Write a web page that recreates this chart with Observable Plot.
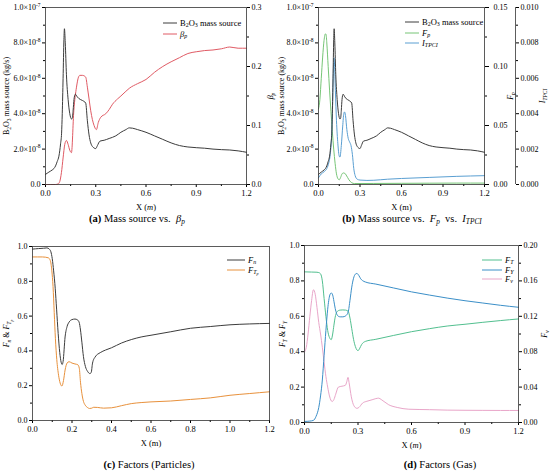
<!DOCTYPE html>
<html><head><meta charset="utf-8">
<script src="https://cdn.jsdelivr.net/npm/d3@7"></script>
<script src="https://cdn.jsdelivr.net/npm/@observablehq/plot@0.6"></script>
<style>
body{margin:0;background:#fff;}
#fig{position:relative;width:550px;height:472px;background:#fff;font-family:"Liberation Serif","Times New Roman","DejaVu Serif",serif;color:#000;overflow:hidden;}
#fig svg text{font-family:"Liberation Serif","Times New Roman","DejaVu Serif",serif;}
.pan{position:absolute;}
.cap{position:absolute;text-align:center;font-size:10.5px;white-space:nowrap;}
.leg{position:absolute;font-size:8.5px;white-space:nowrap;}
.leg .row{position:absolute;left:0;display:flex;align-items:center;height:10px;}
.leg .row span{margin-left:3px;}
sub{font-size:70%;vertical-align:-0.25em;line-height:0;}
sup{font-size:70%;line-height:0;}
</style></head>
<body><div id="fig"></div>
<script>
// ---------------- data ----------------
// B2O3 mass source (units of 1e-8 kg/s)
const X_MASS = [0,0.02,0.04,0.05,0.06,0.07,0.08,0.09,0.096,0.1,0.105,0.11,0.113,0.118,0.125,0.135,0.145,0.155,0.16,0.165,0.17,0.178,0.19,0.2,0.22,0.24,0.25,0.26,0.27,0.28,0.3,0.31,0.325,0.35,0.38,0.42,0.45,0.48,0.5,0.52,0.55,0.6,0.65,0.7,0.75,0.8,0.85,0.9,0.95,1.0,1.05,1.1,1.15,1.2];
const MASS   = [0.57,0.7,0.82,0.9,1.05,1.3,1.6,2.3,2.9,4.0,6.0,8.2,8.8,8.0,6.2,4.8,4.0,3.7,3.75,4.2,4.8,5.1,4.95,4.85,4.75,4.6,3.6,2.8,2.35,2.15,2.03,2.2,2.45,2.5,2.6,2.75,2.95,3.1,3.2,3.18,3.1,2.95,2.75,2.55,2.35,2.2,2.12,2.08,2.05,2.0,1.97,1.95,1.9,1.82];
// beta_p
const X_BETA = [0,0.06,0.075,0.085,0.095,0.105,0.115,0.125,0.135,0.145,0.155,0.169,0.185,0.197,0.205,0.22,0.24,0.25,0.26,0.27,0.28,0.29,0.304,0.315,0.33,0.36,0.38,0.4,0.43,0.45,0.48,0.5,0.55,0.6,0.65,0.7,0.75,0.8,0.85,0.9,0.95,1.0,1.05,1.1,1.15,1.2];
const BETA   = [0,0,0.001,0.005,0.02,0.045,0.068,0.0746,0.068,0.058,0.054,0.125,0.165,0.182,0.185,0.185,0.182,0.165,0.145,0.125,0.11,0.1,0.093,0.105,0.114,0.12,0.127,0.136,0.145,0.15,0.158,0.163,0.171,0.178,0.19,0.2,0.208,0.215,0.222,0.225,0.227,0.228,0.23,0.233,0.231,0.231];
// F_p
const X_FP = [0,0.01,0.02,0.03,0.04,0.05,0.055,0.06,0.07,0.08,0.09,0.1,0.11,0.12,0.13,0.14,0.15,0.16,0.17,0.18,0.19,0.2,0.21,0.22,0.23,0.24,0.26,0.3,0.4,0.6,0.8,1.0,1.2];
const FP   = [0.064,0.072,0.09,0.108,0.122,0.1277,0.127,0.12,0.1,0.08,0.062,0.045,0.03,0.018,0.009,0.005,0.004,0.006,0.009,0.0098,0.0095,0.008,0.006,0.004,0.0025,0.0015,0.0008,0.0008,0.0009,0.001,0.0011,0.0012,0.0012];
// I_TPCI
const X_ITPCI = [0,0.02,0.04,0.06,0.075,0.085,0.095,0.102,0.107,0.112,0.116,0.122,0.13,0.14,0.15,0.155,0.165,0.175,0.183,0.188,0.195,0.205,0.215,0.225,0.235,0.245,0.255,0.265,0.28,0.3,0.35,0.4,0.5,0.6,0.8,1.0,1.2];
const ITPCI   = [0.00038,0.0006,0.00072,0.0009,0.00125,0.0017,0.0028,0.0045,0.0063,0.00716,0.0068,0.0053,0.0036,0.0023,0.0016,0.00155,0.0022,0.0033,0.004,0.0041,0.0039,0.0031,0.0026,0.0024,0.0022,0.0017,0.0009,0.0005,0.0003,0.00025,0.00023,0.00024,0.0003,0.00034,0.0004,0.00046,0.0005];
// F_n
const X_FN = [0,0.03,0.056,0.073,0.085,0.093,0.1,0.107,0.115,0.122,0.13,0.138,0.145,0.15,0.155,0.165,0.175,0.185,0.2,0.215,0.228,0.236,0.243,0.25,0.258,0.268,0.279,0.29,0.297,0.304,0.317,0.343,0.37,0.4,0.45,0.5,0.55,0.6,0.7,0.8,0.9,1.0,1.1,1.2];
const FN   = [0.985,0.988,0.99,0.992,0.985,0.97,0.93,0.86,0.76,0.64,0.5,0.39,0.335,0.322,0.34,0.48,0.54,0.565,0.58,0.583,0.578,0.565,0.52,0.45,0.367,0.31,0.282,0.27,0.275,0.33,0.365,0.39,0.405,0.418,0.445,0.465,0.48,0.49,0.51,0.53,0.54,0.55,0.555,0.558];
// F_Tp
const X_FTP = [0,0.05,0.08,0.09,0.098,0.104,0.11,0.116,0.123,0.132,0.14,0.149,0.157,0.165,0.175,0.185,0.2,0.215,0.23,0.237,0.243,0.25,0.258,0.267,0.278,0.289,0.3,0.31,0.33,0.36,0.4,0.45,0.5,0.55,0.6,0.7,0.8,0.9,1.0,1.1,1.2];
const FTP   = [0.94,0.94,0.935,0.92,0.86,0.77,0.62,0.47,0.35,0.26,0.215,0.198,0.23,0.29,0.33,0.338,0.33,0.325,0.32,0.3,0.22,0.155,0.11,0.088,0.075,0.069,0.071,0.076,0.075,0.071,0.073,0.085,0.097,0.103,0.107,0.112,0.121,0.13,0.145,0.155,0.165];
// F_T (gas)
const X_FT = [0,0.04,0.07,0.08,0.09,0.1,0.11,0.12,0.13,0.14,0.15,0.158,0.165,0.172,0.18,0.19,0.2,0.215,0.23,0.245,0.255,0.265,0.275,0.285,0.294,0.3,0.31,0.32,0.341,0.4,0.5,0.6,0.7,0.8,0.9,1.0,1.1,1.2];
const FT   = [0.851,0.85,0.849,0.847,0.84,0.8,0.7,0.6,0.52,0.48,0.468,0.5,0.55,0.595,0.622,0.632,0.635,0.636,0.635,0.628,0.59,0.53,0.47,0.43,0.41,0.406,0.42,0.44,0.458,0.47,0.492,0.513,0.53,0.545,0.555,0.566,0.576,0.585];
// F_Y (gas)
const X_FY = [0,0.03,0.05,0.065,0.08,0.09,0.1,0.11,0.12,0.13,0.142,0.15,0.158,0.165,0.172,0.18,0.19,0.2,0.215,0.23,0.245,0.255,0.265,0.275,0.285,0.294,0.305,0.315,0.325,0.341,0.4,0.5,0.6,0.7,0.8,0.9,1.0,1.1,1.2];
const FY   = [0.006,0.008,0.012,0.035,0.085,0.15,0.24,0.38,0.52,0.64,0.72,0.732,0.72,0.685,0.645,0.615,0.6,0.597,0.597,0.602,0.625,0.69,0.765,0.815,0.838,0.842,0.83,0.812,0.802,0.794,0.782,0.76,0.738,0.72,0.703,0.688,0.675,0.662,0.651];
// F_v (gas)
const X_FV = [0,0.01,0.02,0.03,0.04,0.05,0.06,0.07,0.08,0.09,0.1,0.11,0.12,0.13,0.14,0.155,0.165,0.175,0.19,0.21,0.229,0.237,0.244,0.25,0.2625,0.277,0.294,0.305,0.326,0.35,0.379,0.4,0.416,0.43,0.4725,0.52,0.585,0.7,0.8,0.9,1.0,1.1,1.2];
const FV   = [0.0796,0.085,0.1,0.12,0.138,0.15,0.145,0.13,0.113,0.1,0.085,0.068,0.052,0.04,0.03,0.0237,0.026,0.032,0.04,0.041,0.042,0.046,0.051,0.045,0.029,0.019,0.016,0.017,0.022,0.024,0.0257,0.027,0.0275,0.026,0.02,0.017,0.015,0.0145,0.014,0.0138,0.0137,0.0136,0.0136];

// tick labels
const X_TICKS_3 = [0,0.3,0.6,0.9,1.2];
const X_TICKS_2 = [0,0.2,0.4,0.6,0.8,1.0,1.2];
const MASS_TICKS = [0,2,4,6,8,10];
const MASS_TICK_LABELS = ["0.0","2.0×10^{-8}","4.0×10^{-8}","6.0×10^{-8}","8.0×10^{-8}","1.0×10^{-7}"];
const BETA_TICKS = [0,0.1,0.2,0.3];
const FP_TICKS = [0,0.05,0.10,0.15];
const ITPCI_TICKS = [0,0.002,0.004,0.006,0.008,0.010];
const UNIT_TICKS = [0,0.2,0.4,0.6,0.8,1.0];
const FV_TICKS = [0,0.04,0.08,0.12,0.16,0.20];

const COLORS = {mass:"#3c3c3c", beta:"#e05a64", fp:"#76c576", itpci:"#5a9fd2", fn:"#3c3c3c", ftp:"#e8913c", ft:"#52bf8f", fy:"#3b8fc8", fv:"#e9a6c9"};

// ---------------- helpers ----------------
const FONT = "'Liberation Serif', 'Times New Roman', 'DejaVu Serif', serif";
const svgNS = "http://www.w3.org/2000/svg";
function richText(el, base) {
  const s = el.textContent;
  if (!/[_^*]\{/.test(s)) return;
  const segs = [];
  function parse(str, i, shift, scale, italic) {
    let buf = "";
    const flush = () => { if (buf) segs.push({t: buf, shift, scale, italic}); buf = ""; };
    while (i < str.length) {
      const c = str[i];
      if ((c === "_" || c === "^" || c === "*") && str[i + 1] === "{") {
        flush();
        const ns = c === "_" ? shift + 0.28 * scale : c === "^" ? shift - 0.4 * scale : shift;
        const nsc = c === "*" ? scale : scale * 0.68;
        i = parse(str, i + 2, ns, nsc, italic || c === "*");
      } else if (c === "}") { flush(); return i + 1; }
      else { buf += c; i++; }
    }
    flush(); return i;
  }
  parse(s, 0, 0, 1, false);
  el.textContent = "";
  let cur = 0;
  for (const g of segs) {
    const ts = document.createElementNS(svgNS, "tspan");
    const dy = (g.shift - cur) * base;
    if (Math.abs(dy) > 1e-6) ts.setAttribute("dy", dy.toFixed(2));
    cur = g.shift;
    ts.setAttribute("font-size", (g.scale * base).toFixed(2));
    if (g.italic) ts.setAttribute("font-style", "italic");
    ts.textContent = g.t;
    el.appendChild(ts);
  }
}
function fmtSvg(svg) {
  svg.querySelectorAll("text").forEach(t => {
    const fs = parseFloat(getComputedStyle(t).fontSize) || 8;
    richText(t, fs);
  });
}
const fig = document.getElementById("fig");
function place(node, left, top) {
  const d = document.createElement("div");
  d.className = "pan"; d.style.left = left + "px"; d.style.top = top + "px";
  d.appendChild(node); fig.appendChild(d); fmtSvg(node);
}
function minorOf(ticks) {
  const out = [];
  for (let i = 0; i < ticks.length - 1; i++) out.push((ticks[i] + ticks[i + 1]) / 2);
  return out;
}
function series(xs, ys, color, f = d => d) {
  return Plot.line(ys, {x: (d, i) => xs[i], y: d => f(d), stroke: color, strokeWidth: 1, curve: "monotone-x"});
}
function caption(html, cx, top) {
  const d = document.createElement("div");
  d.className = "cap"; d.style.left = (cx - 150) + "px"; d.style.width = "300px"; d.style.top = top + "px";
  d.innerHTML = html; fig.appendChild(d);
}
function legend(left, top, rowH, lineLen, items) {
  const d = document.createElement("div");
  d.className = "leg"; d.style.left = left + "px"; d.style.top = top + "px";
  items.forEach((it, i) => {
    const r = document.createElement("div");
    r.className = "row"; r.style.top = (i * rowH) + "px";
    r.innerHTML = `<svg width="${lineLen}" height="4"><line x1="0" x2="${lineLen}" y1="2" y2="2" stroke="${it.color}" stroke-width="1"/></svg><span>${it.html}</span>`;
    d.appendChild(r);
  });
  fig.appendChild(d);
}
const baseStyle = {fontFamily: FONT, fontSize: "7.5px", color: "#000", background: "transparent", overflow: "visible"};
const fmt = n => v => (+v).toFixed(n);

// ---------------- (a) ----------------
{
  const MASS_MAX = 10, BETA_MAX = 0.3;
  const toL = v => v / BETA_MAX * MASS_MAX, fromL = v => v / MASS_MAX * BETA_MAX;
  const svg = Plot.plot({
    width: 275, height: 212, marginTop: 7, marginBottom: 28, marginLeft: 45, marginRight: 29,
    style: baseStyle,
    x: {domain: [0, 1.2]}, y: {domain: [0, MASS_MAX]},
    marks: [
      Plot.axisX(X_TICKS_3, {tickFormat: fmt(1), tickSize: 3, tickPadding: 2, label: "X (*{m})", labelAnchor: "center", labelOffset: 25, labelArrow: "none", fontSize: 8.5}),
      Plot.axisX(minorOf(X_TICKS_3), {tickFormat: () => "", tickSize: 2, label: null}),
      Plot.axisY(MASS_TICKS, {tickFormat: d => MASS_TICK_LABELS[MASS_TICKS.indexOf(d)], tickSize: 3, tickPadding: 2, label: "B_{2}O_{3} mass source (kg/s)", labelAnchor: "center", labelOffset: 42, labelArrow: "none", fontSize: 8}),
      Plot.axisY(minorOf(MASS_TICKS), {tickFormat: () => "", tickSize: 2, label: null}),
      Plot.axisY(BETA_TICKS.map(toL), {anchor: "right", tickFormat: d => fromL(d).toFixed(1), tickSize: 3, tickPadding: 2, label: "*{β}_{*{p}}", labelAnchor: "center", labelOffset: 26, labelArrow: "none", fontSize: 8}),
      Plot.axisY(minorOf(BETA_TICKS).map(toL), {anchor: "right", tickFormat: () => "", tickSize: 2, label: null}),
      series(X_BETA, BETA, COLORS.beta, toL),
      series(X_MASS, MASS, COLORS.mass),
      Plot.frame({stroke: "#333", strokeWidth: 0.8})
    ]
  });
  place(svg, 0, 0);
  legend(163, 18, 10.5, 14, [
    {color: COLORS.mass, html: "B<sub>2</sub>O<sub>3</sub> mass source"},
    {color: COLORS.beta, html: "<i>β</i><sub><i>p</i></sub>"}
  ]);
  caption("<b>(a)</b> Mass source vs. &nbsp;<i>β</i><sub><i>p</i></sub>", 137, 213);
}

// ---------------- (b) ----------------
{
  const MASS_MAX = 10, FP_MAX = 0.15, I_MAX = 0.01;
  const toF = v => v / FP_MAX * MASS_MAX, fromF = v => v / MASS_MAX * FP_MAX;
  const toI = v => v / I_MAX * MASS_MAX, fromI = v => v / MASS_MAX * I_MAX;
  const svg = Plot.plot({
    width: 275, height: 212, marginTop: 7, marginBottom: 28, marginLeft: 43, marginRight: 66,
    style: baseStyle,
    x: {domain: [0, 1.2]}, y: {domain: [0, MASS_MAX]},
    marks: [
      Plot.axisX(X_TICKS_3, {tickFormat: fmt(1), tickSize: 3, tickPadding: 2, label: "X (m)", labelAnchor: "center", labelOffset: 25, labelArrow: "none", fontSize: 8.5}),
      Plot.axisX(minorOf(X_TICKS_3), {tickFormat: () => "", tickSize: 2, label: null}),
      Plot.axisY(MASS_TICKS, {tickFormat: d => MASS_TICK_LABELS[MASS_TICKS.indexOf(d)], tickSize: 3, tickPadding: 2, label: "B_{2}O_{3} mass source (kg/s)", labelAnchor: "center", labelOffset: 40, labelArrow: "none", fontSize: 8}),
      Plot.axisY(minorOf(MASS_TICKS), {tickFormat: () => "", tickSize: 2, label: null}),
      Plot.axisY(FP_TICKS.map(toF), {anchor: "right", tickFormat: d => fromF(d).toFixed(2), tickSize: 4, tickPadding: 5, label: "*{F}_{*{p}}", labelAnchor: "center", labelOffset: 28, labelArrow: "none", fontSize: 8}),
      Plot.axisY(minorOf(FP_TICKS).map(toF), {anchor: "right", tickFormat: () => "", tickSize: 2, label: null}),
      Plot.ruleX([1.2], {dx: 31, stroke: "#333", strokeWidth: 0.8}),
      Plot.axisY(ITPCI_TICKS.map(toI), {anchor: "right", dx: 31, tickFormat: d => fromI(d).toFixed(3), tickSize: 3, tickPadding: 2, label: "*{I}_{*{TPCI}}", labelAnchor: "center", labelOffset: 60, labelArrow: "none", fontSize: 8}),
      Plot.axisY(minorOf(ITPCI_TICKS).map(toI), {anchor: "right", dx: 31, tickFormat: () => "", tickSize: 2, label: null}),
      series(X_FP, FP, COLORS.fp, toF),
      series(X_ITPCI, ITPCI, COLORS.itpci, toI),
      series(X_MASS, MASS, COLORS.mass),
      Plot.frame({stroke: "#333", strokeWidth: 0.8})
    ]
  });
  place(svg, 275, 0);
  legend(405, 17, 10.5, 14, [
    {color: COLORS.mass, html: "B<sub>2</sub>O<sub>3</sub> mass source"},
    {color: COLORS.fp, html: "<i>F</i><sub><i>p</i></sub>"},
    {color: COLORS.itpci, html: "<i>I</i><sub><i>TPCI</i></sub>"}
  ]);
  caption("<b>(b)</b> Mass source vs. &nbsp;<i>F</i><sub><i>p</i></sub>&nbsp; vs. &nbsp;<i>I</i><sub><i>TPCI</i></sub>", 412, 213);
}

// ---------------- (c) ----------------
{
  const svg = Plot.plot({
    width: 275, height: 214, marginTop: 10, marginBottom: 30, marginLeft: 32, marginRight: 6,
    style: baseStyle,
    x: {domain: [0, 1.2]}, y: {domain: [0, 1]},
    marks: [
      Plot.axisX(X_TICKS_2, {tickFormat: fmt(1), tickSize: 3, tickPadding: 2, label: "X (m)", labelAnchor: "center", labelOffset: 25, labelArrow: "none", fontSize: 8.5}),
      Plot.axisX(minorOf(X_TICKS_2), {tickFormat: () => "", tickSize: 2, label: null}),
      Plot.axisY(UNIT_TICKS, {tickFormat: fmt(1), tickSize: 3, tickPadding: 2, label: "*{F}_{*{n}} & *{F}_{*{T}_{*{p}}}", labelAnchor: "center", labelOffset: 29, labelArrow: "none", fontSize: 8}),
      Plot.axisY(minorOf(UNIT_TICKS), {tickFormat: () => "", tickSize: 2, label: null}),
      series(X_FTP, FTP, COLORS.ftp),
      series(X_FN, FN, COLORS.fn),
      Plot.frame({stroke: "#333", strokeWidth: 0.8})
    ]
  });
  place(svg, 0, 236);
  legend(227, 255, 9.5, 18, [
    {color: COLORS.fn, html: "<i>F</i><sub><i>n</i></sub>"},
    {color: COLORS.ftp, html: "<i>F</i><sub><i>T<sub>p</sub></i></sub>"}
  ]);
  caption("<b>(c)</b> Factors (Particles)", 149, 459);
}

// ---------------- (d) ----------------
{
  const FV_MAX = 0.2;
  const toV = v => v / FV_MAX, fromV = v => v * FV_MAX;
  const svg = Plot.plot({
    width: 275, height: 214, marginTop: 9, marginBottom: 28, marginLeft: 29, marginRight: 32,
    style: baseStyle,
    x: {domain: [0, 1.2]}, y: {domain: [0, 1]},
    marks: [
      Plot.axisX(X_TICKS_3, {tickFormat: fmt(1), tickSize: 3, tickPadding: 2, label: "X (*{m})", labelAnchor: "center", labelOffset: 25, labelArrow: "none", fontSize: 8.5}),
      Plot.axisX(minorOf(X_TICKS_3), {tickFormat: () => "", tickSize: 2, label: null}),
      Plot.axisY(UNIT_TICKS, {tickFormat: fmt(1), tickSize: 3, tickPadding: 2, label: "*{F}_{*{T}} & *{F}_{*{Y}}", labelAnchor: "center", labelOffset: 25, labelArrow: "none", fontSize: 8}),
      Plot.axisY(minorOf(UNIT_TICKS), {tickFormat: () => "", tickSize: 2, label: null}),
      Plot.axisY(FV_TICKS.map(toV), {anchor: "right", tickFormat: d => fromV(d).toFixed(2), tickSize: 3, tickPadding: 2, label: "*{F}_{*{v}}", labelAnchor: "center", labelOffset: 28, labelArrow: "none", fontSize: 8}),
      Plot.axisY(minorOf(FV_TICKS).map(toV), {anchor: "right", tickFormat: () => "", tickSize: 2, label: null}),
      series(X_FV, FV, COLORS.fv, toV),
      series(X_FT, FT, COLORS.ft),
      series(X_FY, FY, COLORS.fy),
      Plot.frame({stroke: "#333", strokeWidth: 0.8})
    ]
  });
  place(svg, 275, 236);
  legend(482, 255, 9.5, 20, [
    {color: COLORS.ft, html: "<i>F</i><sub><i>T</i></sub>"},
    {color: COLORS.fy, html: "<i>F</i><sub><i>Y</i></sub>"},
    {color: COLORS.fv, html: "<i>F</i><sub><i>v</i></sub>"}
  ]);
  caption("<b>(d)</b> Factors (Gas)", 440, 459);
}
</script>
</body></html>
